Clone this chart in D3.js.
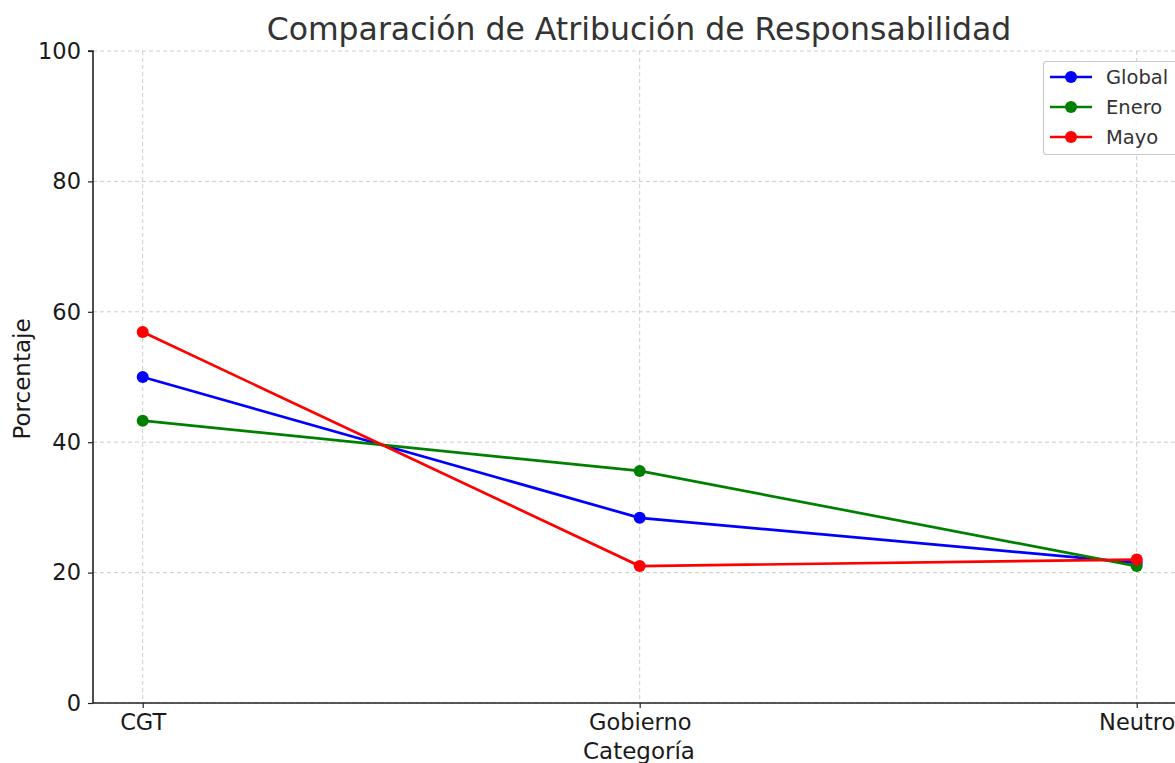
<!DOCTYPE html>
<html><head><meta charset="utf-8">
<script src="https://cdn.jsdelivr.net/npm/d3@7"></script>
<style>body{margin:0;background:#fff}svg{display:block;font-family:"DejaVu Sans",sans-serif}</style>
</head><body><svg id="c" width="1175" height="763"></svg>
<script>
const categories = ["CGT", "Gobierno", "Neutro"];
const seriesNames = ["Global", "Enero", "Mayo"];
const seriesColors = ["#0000ff", "#008000", "#ff0000"];
const globalValues = [50.0, 28.4, 21.5];
const eneroValues = [43.3, 35.6, 21.0];
const mayoValues = [56.9, 21.0, 22.0];
const yTicks = [0, 20, 40, 60, 80, 100];
const title = "Comparación de Atribución de Responsabilidad";
const xLabel = "Categoría";
const yLabel = "Porcentaje";

const series = [globalValues, eneroValues, mayoValues].map((v, i) => ({name: seriesNames[i], color: seriesColors[i], values: v}));

const svg = d3.select("#c");
const L = 93, T = 51, B = 703;
const unit = 497;
const R = L + 2.2 * unit;
const x = d3.scaleLinear().domain([-0.1, 2.1]).range([L, R]);
const y = d3.scaleLinear().domain([0, 100]).range([B, T]);

// grid
const g = svg.append("g");
g.selectAll(".gy").data(yTicks).join("line")
  .attr("x1", L).attr("x2", R).attr("y1", d => y(d)).attr("y2", d => y(d))
  .attr("stroke", "#cccccc").attr("stroke-width", 1).attr("stroke-dasharray", "4,3");
g.selectAll(".gx").data(categories).join("line")
  .attr("x1", (d, i) => x(i)).attr("x2", (d, i) => x(i)).attr("y1", T).attr("y2", B)
  .attr("stroke", "#cccccc").attr("stroke-width", 1).attr("stroke-dasharray", "4,3");

// axes
const yAxis = d3.axisLeft(y).tickValues(yTicks).tickSize(5).tickPadding(7);
const ya = svg.append("g").attr("transform", `translate(${L},0)`).call(yAxis);
const xAxis = d3.axisBottom(x).tickValues([0, 1, 2]).tickFormat(i => categories[i]).tickSize(5).tickPadding(6);
const xa = svg.append("g").attr("transform", `translate(0,${B})`).call(xAxis);
[ya, xa].forEach(a => {
  a.attr("font-size", null).attr("font-family", null);
  a.select(".domain").attr("stroke", "#222").attr("stroke-width", 1.6);
  a.selectAll(".tick line").attr("stroke", "#222").attr("stroke-width", 1.2);
  a.selectAll(".tick text").attr("fill", "#1a1a1a").style("font-size", "22.5px").style("font-family", "DejaVu Sans");
});
ya.select(".domain").attr("d", `M${-5},${T}H0V${B}`);
xa.select(".domain").attr("d", `M${L},0H${R}`);

// lines
const line = d3.line().x((d, i) => x(i)).y(d => y(d));
series.forEach(s => {
  svg.append("path").datum(s.values).attr("d", line)
    .attr("fill", "none").attr("stroke", s.color).attr("stroke-width", 2.7);
  svg.selectAll(null).data(s.values).join("circle")
    .attr("cx", (d, i) => x(i)).attr("cy", d => y(d)).attr("r", 6).attr("fill", s.color);
});

// title and labels
svg.append("text").attr("x", 639).attr("y", 40).attr("text-anchor", "middle")
  .attr("fill", "#333").style("font-size", "31.5px").text(title);
svg.append("text").attr("x", 639).attr("y", 759).attr("text-anchor", "middle")
  .attr("fill", "#1a1a1a").style("font-size", "23px").text(xLabel);
svg.append("text").attr("transform", `translate(30,${(T + B) / 2 + 2}) rotate(-90)`).attr("text-anchor", "middle")
  .attr("fill", "#1a1a1a").style("font-size", "23px").text(yLabel);

// legend
const lg = svg.append("g");
lg.append("rect").attr("x", 1043.5).attr("y", 61.5).attr("width", 150).attr("height", 93).attr("rx", 3)
  .attr("fill", "#fff").attr("fill-opacity", 0.8).attr("stroke", "#cccccc").attr("stroke-width", 1.2);
series.forEach((s, i) => {
  const yy = 77 + i * 30;
  lg.append("line").attr("x1", 1050).attr("x2", 1092).attr("y1", yy).attr("y2", yy)
    .attr("stroke", s.color).attr("stroke-width", 2.7);
  lg.append("circle").attr("cx", 1071).attr("cy", yy).attr("r", 6).attr("fill", s.color);
  lg.append("text").attr("x", 1106).attr("y", yy + 7).attr("fill", "#333").style("font-size", "19.5px").text(s.name);
});
</script></body></html>
